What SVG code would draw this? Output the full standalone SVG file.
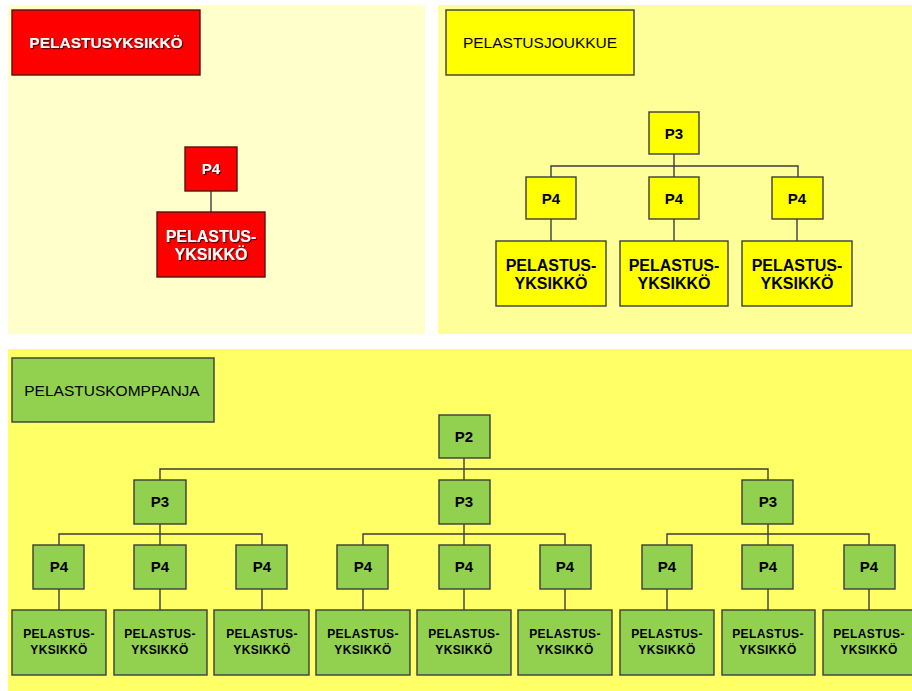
<svg xmlns="http://www.w3.org/2000/svg" width="912" height="691" viewBox="0 0 912 691">
  <defs>
    <filter id="shadow" x="-10%" y="-20%" width="130%" height="150%">
      <feDropShadow dx="1.2" dy="1.2" stdDeviation="0.6" flood-color="#3a0000" flood-opacity="0.85"/>
    </filter>
  </defs>
  <style>
    .box { stroke: #3c3c3c; stroke-width: 1.4; }
    .red { fill: #ff0000; stroke: #5a1010; }
    .yel { fill: #ffff00; }
    .grn { fill: #92d050; }
    .t { font-family: "Liberation Sans", Arial, sans-serif; text-anchor: middle; fill: #000; }
    .title { font-size: 15.5px; }
    .p { font-size: 15px; font-weight: bold; }
    .u { font-size: 16px; font-weight: bold; }
    .us { font-size: 12px; font-weight: bold; letter-spacing: 0.4px; }
    .w { fill: #ffffff; filter: url(#shadow); }
    .conn { fill: none; stroke: #3c3c3c; stroke-width: 1.4; }
  </style>

  <!-- background panels -->
  <rect x="0" y="0" width="912" height="691" fill="#ffffff"/>
  <rect x="8" y="5" width="417" height="329" fill="#ffffcc"/>
  <rect x="438" y="5" width="474" height="329" fill="#ffff99"/>
  <rect x="8" y="349" width="904" height="342" fill="#ffff66"/>

  <!-- connectors -->
  <g id="connectors" class="conn">
    <!-- unit -->
    <path d="M211 191V212"/>
    <!-- platoon -->
    <path d="M674 154V177M551 177V166H798V177M551 219V241M674 219V241M797 219V241"/>
    <!-- company -->
    <path d="M464 458V480M160 480V469H768V480"/>
    <path d="M160 524V545M59 545V534H262V545"/>
    <path d="M464 524V545M363 545V534H565V545"/>
    <path d="M768 524V545M667 545V534H869V545"/>
    <path d="M59 589V610M160 589V610M262 589V610M363 589V610M464 589V610M565 589V610M667 589V610M768 589V610M869 589V610"/>
  </g>

  <!-- PELASTUSYKSIKKÖ panel -->
  <g id="unit-title">
    <rect class="box red" x="12" y="10" width="188" height="65"/>
    <text class="t title w" x="106" y="48" font-weight="bold">PELASTUSYKSIKKÖ</text>
  </g>
  <g id="unit-p4">
    <rect class="box red" x="185" y="147" width="52" height="44"/>
    <text class="t p w" x="211" y="174">P4</text>
  </g>
  <g id="unit-yksikko">
    <rect class="box red" x="157" y="212" width="108" height="65"/>
    <text class="t u w" x="211" y="242">PELASTUS-</text>
    <text class="t u w" x="211" y="260">YKSIKKÖ</text>
  </g>

  <!-- PELASTUSJOUKKUE panel -->
  <g id="platoon-title">
    <rect class="box yel" x="446" y="10" width="188" height="65"/>
    <text class="t title" x="540" y="48">PELASTUSJOUKKUE</text>
  </g>
  <g id="platoon-p3">
    <rect class="box yel" x="649" y="112" width="50" height="42"/>
    <text class="t p" x="674" y="139">P3</text>
  </g>
  <g id="platoon-p4-1">
    <rect class="box yel" x="526" y="177" width="50" height="42"/>
    <text class="t p" x="551" y="204">P4</text>
  </g>
  <g id="platoon-p4-2">
    <rect class="box yel" x="649" y="177" width="50" height="42"/>
    <text class="t p" x="674" y="204">P4</text>
  </g>
  <g id="platoon-p4-3">
    <rect class="box yel" x="772" y="177" width="51" height="42"/>
    <text class="t p" x="797" y="204">P4</text>
  </g>
  <g id="platoon-yksikko-1">
    <rect class="box yel" x="496" y="241" width="110" height="65"/>
    <text class="t u" x="551" y="271">PELASTUS-</text>
    <text class="t u" x="551" y="289">YKSIKKÖ</text>
  </g>
  <g id="platoon-yksikko-2">
    <rect class="box yel" x="620" y="241" width="108" height="65"/>
    <text class="t u" x="674" y="271">PELASTUS-</text>
    <text class="t u" x="674" y="289">YKSIKKÖ</text>
  </g>
  <g id="platoon-yksikko-3">
    <rect class="box yel" x="742" y="241" width="110" height="65"/>
    <text class="t u" x="797" y="271">PELASTUS-</text>
    <text class="t u" x="797" y="289">YKSIKKÖ</text>
  </g>

  <!-- PELASTUSKOMPPANJA panel -->
  <g id="company-title">
    <rect class="box grn" x="12" y="358" width="202" height="64"/>
    <text class="t title" x="112" y="396">PELASTUSKOMPPANJA</text>
  </g>
  <g id="company-p2">
    <rect class="box grn" x="439" y="415" width="51" height="43"/>
    <text class="t p" x="464" y="442">P2</text>
  </g>
  <g id="company-p3-1">
    <rect class="box grn" x="134" y="480" width="52" height="44"/>
    <text class="t p" x="160" y="507">P3</text>
  </g>
  <g id="company-p3-2">
    <rect class="box grn" x="439" y="480" width="51" height="44"/>
    <text class="t p" x="464" y="507">P3</text>
  </g>
  <g id="company-p3-3">
    <rect class="box grn" x="742" y="480" width="51" height="44"/>
    <text class="t p" x="768" y="507">P3</text>
  </g>

  <g id="company-p4-1"><rect class="box grn" x="33" y="545" width="51" height="44"/><text class="t p" x="59" y="572">P4</text></g>
  <g id="company-p4-2"><rect class="box grn" x="134" y="545" width="52" height="44"/><text class="t p" x="160" y="572">P4</text></g>
  <g id="company-p4-3"><rect class="box grn" x="236" y="545" width="51" height="44"/><text class="t p" x="262" y="572">P4</text></g>
  <g id="company-p4-4"><rect class="box grn" x="337" y="545" width="51" height="44"/><text class="t p" x="363" y="572">P4</text></g>
  <g id="company-p4-5"><rect class="box grn" x="439" y="545" width="51" height="44"/><text class="t p" x="464" y="572">P4</text></g>
  <g id="company-p4-6"><rect class="box grn" x="540" y="545" width="51" height="44"/><text class="t p" x="565" y="572">P4</text></g>
  <g id="company-p4-7"><rect class="box grn" x="642" y="545" width="50" height="44"/><text class="t p" x="667" y="572">P4</text></g>
  <g id="company-p4-8"><rect class="box grn" x="742" y="545" width="51" height="44"/><text class="t p" x="768" y="572">P4</text></g>
  <g id="company-p4-9"><rect class="box grn" x="844" y="545" width="51" height="44"/><text class="t p" x="869" y="572">P4</text></g>

  <g id="company-yksikko-1"><rect class="box grn" x="12" y="610" width="94" height="65"/><text class="t us" x="59" y="638">PELASTUS-</text><text class="t us" x="59" y="654">YKSIKKÖ</text></g>
  <g id="company-yksikko-2"><rect class="box grn" x="114" y="610" width="93" height="65"/><text class="t us" x="160" y="638">PELASTUS-</text><text class="t us" x="160" y="654">YKSIKKÖ</text></g>
  <g id="company-yksikko-3"><rect class="box grn" x="214" y="610" width="95" height="65"/><text class="t us" x="262" y="638">PELASTUS-</text><text class="t us" x="262" y="654">YKSIKKÖ</text></g>
  <g id="company-yksikko-4"><rect class="box grn" x="316" y="610" width="94" height="65"/><text class="t us" x="363" y="638">PELASTUS-</text><text class="t us" x="363" y="654">YKSIKKÖ</text></g>
  <g id="company-yksikko-5"><rect class="box grn" x="417" y="610" width="94" height="65"/><text class="t us" x="464" y="638">PELASTUS-</text><text class="t us" x="464" y="654">YKSIKKÖ</text></g>
  <g id="company-yksikko-6"><rect class="box grn" x="518" y="610" width="94" height="65"/><text class="t us" x="565" y="638">PELASTUS-</text><text class="t us" x="565" y="654">YKSIKKÖ</text></g>
  <g id="company-yksikko-7"><rect class="box grn" x="620" y="610" width="94" height="65"/><text class="t us" x="667" y="638">PELASTUS-</text><text class="t us" x="667" y="654">YKSIKKÖ</text></g>
  <g id="company-yksikko-8"><rect class="box grn" x="722" y="610" width="93" height="65"/><text class="t us" x="768" y="638">PELASTUS-</text><text class="t us" x="768" y="654">YKSIKKÖ</text></g>
  <g id="company-yksikko-9"><rect class="box grn" x="823" y="610" width="94" height="65"/><text class="t us" x="869" y="638">PELASTUS-</text><text class="t us" x="869" y="654">YKSIKKÖ</text></g>
</svg>
